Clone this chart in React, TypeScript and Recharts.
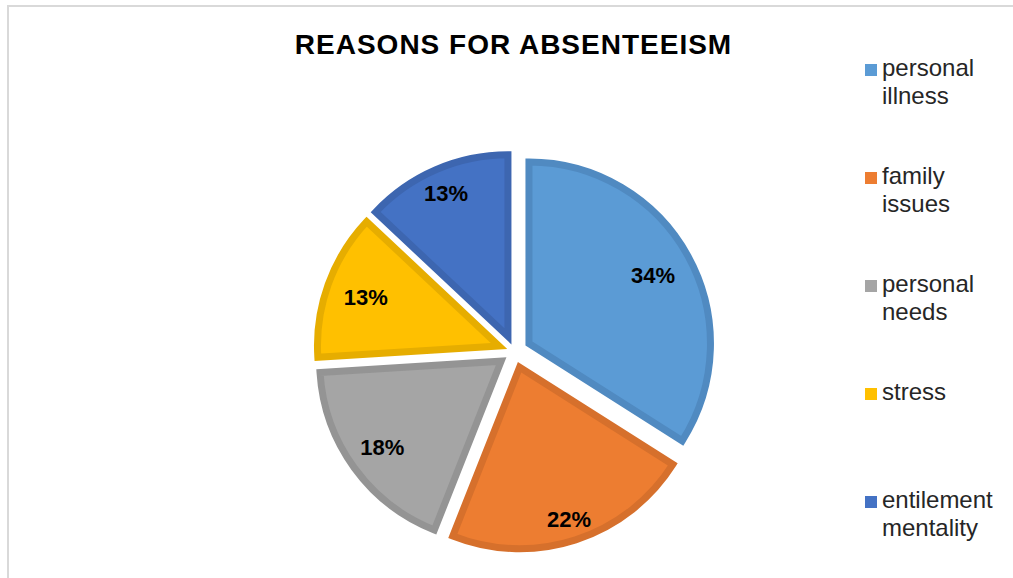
import React from 'react';
import { PieChart, Pie, Cell, Sector, Legend } from 'recharts';

// ---- data ----
const categories = ['personal illness', 'family issues', 'personal needs', 'stress', 'entilement mentality'];
const shares = [34, 22, 18, 13, 13];
const title = 'REASONS FOR ABSENTEEISM';

// ---- styles ----
const FILLS = ['#5B9BD5', '#ED7D31', '#A5A5A5', '#FFC000', '#4472C4'];
const STROKES = ['#508AC1', '#D6702C', '#949494', '#E6AD00', '#3D66B0'];
const LABEL_R = [0.78, 0.88, 0.81, 0.78, 0.86];
const EXPLODE = 16.5;
const STROKE_W = 7;
const FONT = '"Liberation Sans", Arial, sans-serif';

const data = categories.map((name, i) => ({ name, value: shares[i] }));

const RAD = Math.PI / 180;

const renderSlice = (props: any) => {
  const { cx, cy, startAngle, endAngle, outerRadius, index, percent } = props;
  const mid = props.midAngle ?? (startAngle + endAngle) / 2;
  const ox = cx + EXPLODE * Math.cos(-mid * RAD);
  const oy = cy + EXPLODE * Math.sin(-mid * RAD);
  const lr = outerRadius * LABEL_R[index];
  const lx = ox + lr * Math.cos(-mid * RAD);
  const ly = oy + lr * Math.sin(-mid * RAD);
  return (
    <g key={`slice-${index}`}>
      <Sector
        cx={ox}
        cy={oy}
        innerRadius={0}
        outerRadius={outerRadius}
        startAngle={startAngle}
        endAngle={endAngle}
        fill={FILLS[index]}
        stroke={STROKES[index]}
        strokeWidth={STROKE_W}
        strokeLinejoin="miter"
      />
      <text
        x={lx}
        y={ly}
        textAnchor="middle"
        dominantBaseline="central"
        fontFamily={FONT}
        fontWeight="bold"
        fontSize={22}
        fill="#000000"
      >
        {`${Math.round(percent * 100)}%`}
      </text>
    </g>
  );
};

const renderLegend = (props: any) => {
  const payload = [...(props.payload || [])].sort(
    (a: any, b: any) => categories.indexOf(String(a.value)) - categories.indexOf(String(b.value))
  );
  return (
    <div style={{ position: 'relative', width: 150, height: 520 }}>
      {payload.map((entry: any, i: number) => {
        const idx = categories.indexOf(String(entry.value));
        const words = String(entry.value).split(' ');
        return (
          <div
            key={`leg-${i}`}
            style={{ position: 'absolute', left: 0, top: i * 108, width: 150, height: 60 }}
          >
            <div
              style={{
                position: 'absolute',
                left: 0,
                top: 9.5,
                width: 12,
                height: 12,
                background: idx >= 0 ? FILLS[idx] : entry.color,
              }}
            />
            <div
              style={{
                position: 'absolute',
                left: 17,
                top: 0,
                fontFamily: FONT,
                fontSize: 24,
                lineHeight: '27.5px',
                color: '#262626',
                whiteSpace: 'nowrap',
              }}
            >
              {words.map((w, k) => (
                <div key={k}>{w}</div>
              ))}
            </div>
          </div>
        );
      })}
    </div>
  );
};

export default function App() {
  return (
    <div
      style={{
        position: 'absolute',
        left: 0,
        top: 0,
        width: 1013,
        height: 578,
        overflow: 'hidden',
        background: '#ffffff',
      }}
    >
      <div
        style={{
          position: 'absolute',
          left: 7,
          top: 5,
          width: 1100,
          height: 700,
          borderTop: '2px solid #D9D9D9',
          borderLeft: '2px solid #D9D9D9',
        }}
      />
      <div
        style={{
          position: 'absolute',
          left: 0,
          top: 30.5,
          width: 1027,
          textAlign: 'center',
          fontFamily: FONT,
          fontWeight: 'bold',
          fontSize: 28,
          lineHeight: '28px',
          letterSpacing: 1.0,
          color: '#000000',
          whiteSpace: 'nowrap',
        }}
      >
        {title}
      </div>
      <div style={{ position: 'absolute', left: 0, top: 0 }}>
        <PieChart width={1013} height={578} margin={{ top: 0, right: 0, bottom: 0, left: 0 }}>
          <Pie
            data={data}
            dataKey="value"
            nameKey="name"
            cx={514.5}
            cy={351.5}
            outerRadius={181.5}
            startAngle={90}
            endAngle={-270}
            stroke="none"
            fillOpacity={0}
            label={renderSlice}
            labelLine={false}
            isAnimationActive={false}
          >
            {data.map((d, i) => (
              <Cell key={`cell-${i}`} fill={FILLS[i]} fillOpacity={0} stroke="none" />
            ))}
          </Pie>
          <Legend
            layout="vertical"
            align="right"
            verticalAlign="top"
            content={renderLegend}
            wrapperStyle={{ position: 'absolute', left: 865, top: 54, width: 150, right: 'auto', bottom: 'auto' }}
          />
        </PieChart>
      </div>
    </div>
  );
}
